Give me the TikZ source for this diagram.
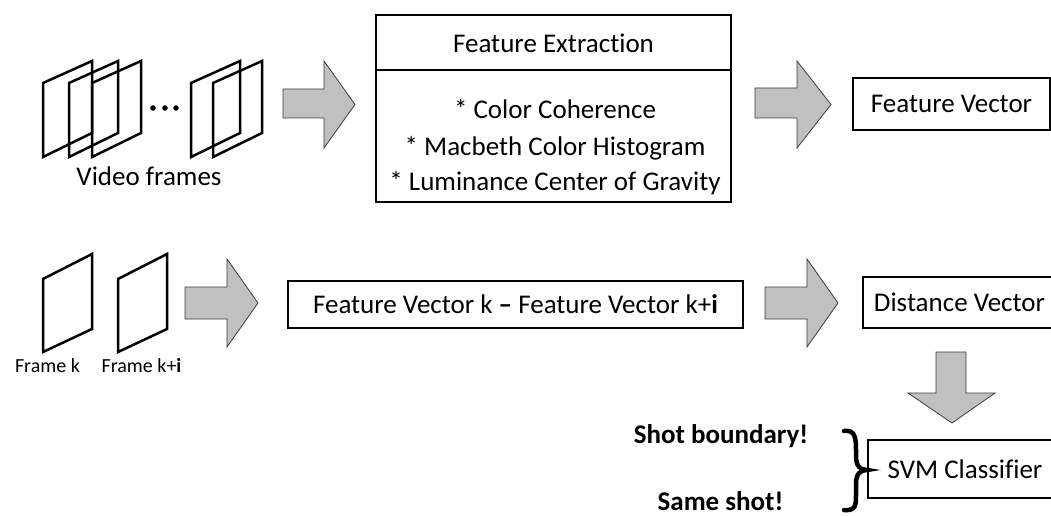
\documentclass[tikz,border=0pt]{standalone}
\usepackage{fontspec}
\setmainfont{Carlito}[Ligatures=NoCommon]
\definecolor{arrowgray}{RGB}{192,192,192}
\definecolor{arrowedge}{RGB}{60,60,60}
\begin{document}
\begin{tikzpicture}[x=1pt,y=-1pt,
  box/.style={draw, line width=2pt, inner sep=0pt, font=\fontsize{27}{32}\selectfont},
  framebox/.style={draw, line width=2.5pt, line join=miter},
  barrow/.style={fill=arrowgray, draw=arrowedge, line width=0.8pt, line join=miter},
  lbl/.style={font=\fontsize{27}{32}\selectfont, inner sep=0pt, anchor=base},
  smalllbl/.style={font=\fontsize{20}{24}\selectfont, inner sep=0pt, anchor=base}]
\useasboundingbox (0,0) rectangle (1051,516);
\clip (0,0) rectangle (1051,516);

% video frames (top)
\foreach \x in {43,69,92,191,213}
  \draw[framebox] (\x,157) -- ++(0,-74) -- ++(49,-22) -- ++(0,72) -- cycle;
\foreach \x in {153,165,176}
  \fill (\x,108) circle (2.8pt);
\node[lbl] (vf) at (149,185) {Video frames};

% feature extraction box
\node[box, minimum width=355pt, minimum height=187pt] (fe) at (553.5,108.5) {};
\draw[line width=2pt] (fe.west |- 0,70) -- (fe.east |- 0,70);
\node[lbl] (fet) at (553.5,53) {Feature Extraction};
\node[lbl] (fe1) at (555,118) {* Color Coherence};
\node[lbl] (fe2) at (555,155) {* Macbeth Color Histogram};
\node[lbl] (fe3) at (555,190) {* Luminance Center of Gravity};

% feature vector
\node[box, minimum width=197pt, minimum height=52pt] (fv) at (951.5,104) {Feature Vector};

% top arrows
\draw[barrow] (283,89) -- (324,89) -- (324,61) -- (355,104.5) -- (324,148) -- (324,118) -- (283,118) -- cycle;
\draw[barrow] (755,88) -- (797,88) -- (797,61) -- (831,104.5) -- (797,148) -- (797,118) -- (755,118) -- cycle;

% bottom frames
\foreach \x in {43,118}
  \draw[framebox] (\x,352) -- ++(0,-73) -- ++(49,-25) -- ++(0,75) -- cycle;
\node[smalllbl] (fk) at (47.5,372) {Frame k};
\node[smalllbl] (fki) at (141.5,372) {Frame k+\textbf{i}};

% difference box
\node[box, minimum width=455pt, minimum height=47pt] (diff) at (515.5,304.5) {Feature Vector k \textbf{–} Feature Vector k+\textbf{i}};

% distance vector
\node[box, minimum width=193pt, minimum height=51pt] (dv) at (959.5,302.5) {Distance Vector};

% svm
\node[box, minimum width=194pt, minimum height=58pt] (svm) at (965,469) {SVM Classifier};

% bottom arrows
\draw[barrow] (185,287) -- (227,287) -- (227,259) -- (258,303) -- (227,347) -- (227,319) -- (185,319) -- cycle;
\draw[barrow] (765,287) -- (807,287) -- (807,259) -- (838,303) -- (807,347) -- (807,319) -- (765,319) -- cycle;
\draw[barrow] (936,352) -- (966,352) -- (966,393) -- (995,393) -- (952,423) -- (908,393) -- (936,393) -- cycle;

% brace and outcomes
\draw[line width=4.5pt, line cap=round] (844,431) .. controls (856,429) and (856,440) .. (856,452) -- (856,456) .. controls (856,466) and (860,470) .. (867,470) .. controls (860,470) and (856,474) .. (856,484) -- (856,494) .. controls (856,505) and (856,511) .. (844,510);
\node[lbl, font=\fontsize{27}{32}\selectfont\bfseries] (sb) at (721,443) {Shot boundary!};
\node[lbl, font=\fontsize{27}{32}\selectfont\bfseries] (ss) at (720.5,510) {Same shot!};
\end{tikzpicture}
\end{document}
